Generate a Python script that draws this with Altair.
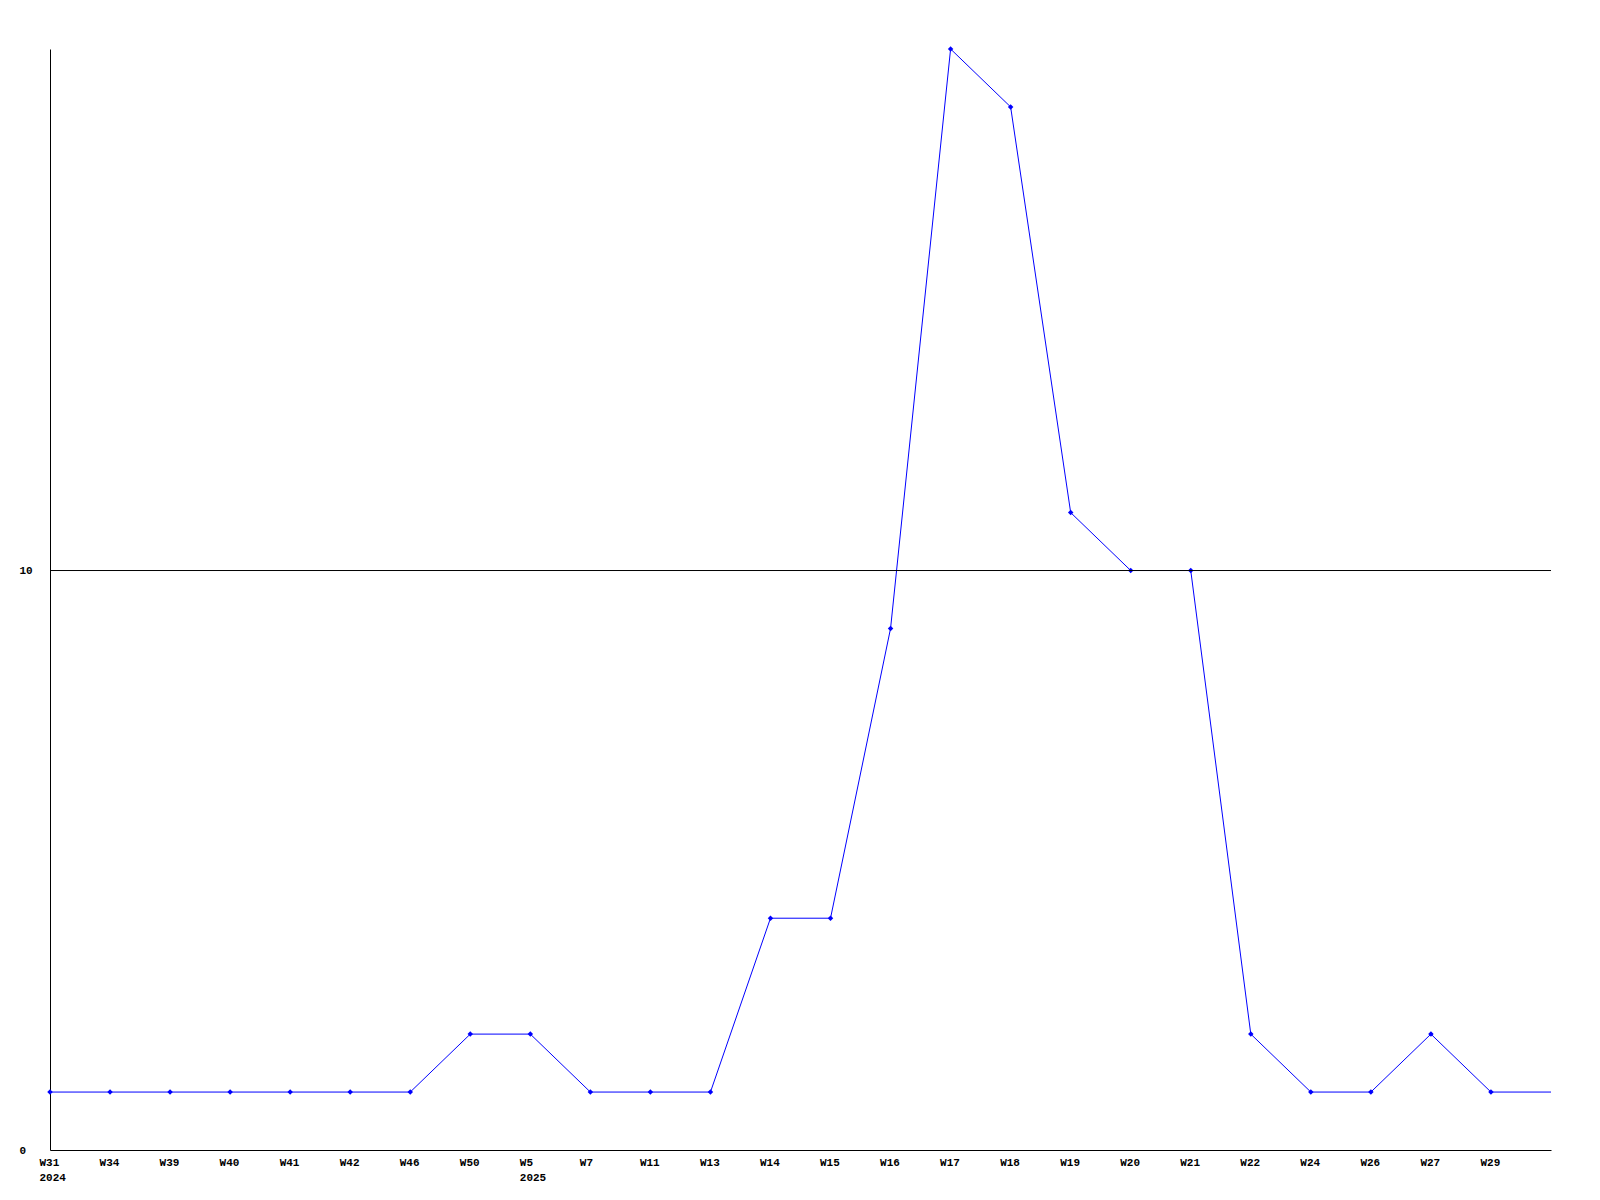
import altair as alt
import pandas as pd

weeks = ["W31", "W34", "W39", "W40", "W41", "W42", "W46", "W50", "W5", "W7",
         "W11", "W13", "W14", "W15", "W16", "W17", "W18", "W19", "W20", "W21",
         "W22", "W24", "W26", "W27", "W29", ""]
years = ["2024", "", "", "", "", "", "", "", "2025", "", "", "", "", "", "", "",
         "", "", "", "", "", "", "", "", "", ""]
values = [1, 1, 1, 1, 1, 1, 1, 2, 2, 1, 1, 1, 4, 4, 9, 19, 18, 11, 10, 10,
          2, 1, 1, 2, 1, 1]
marked = [True] * 25 + [False]
ref_lines = [10]

df = pd.DataFrame({
    "idx": list(range(len(values))),
    "week": weeks,
    "value": values,
    "marked": marked,
})
ref_df = pd.DataFrame({"value": ref_lines})

label_arr = "[" + ",".join(
    "['%s','%s']" % (w, y) for w, y in zip(weeks, years)) + "]"

FONT = "Liberation Mono"

x = alt.X("idx:Q",
          scale=alt.Scale(domain=[0, len(values) - 1], nice=False, zero=False),
          axis=alt.Axis(values=list(range(len(weeks) - 1)), title=None,
                        labelExpr=label_arr + "[datum.value]",
                        ticks=False, grid=False, labelPadding=6,
                        labelAlign="left", labelOffset=-11, labelBaseline="top",
                        labelFont=FONT, labelFontWeight="bold", labelFontSize=11,
                        labelColor="black", labelLineHeight=15,
                        domainColor="black", labelOverlap=False, labelFlush=False))
y = alt.Y("value:Q",
          scale=alt.Scale(domain=[0, 19], nice=False),
          axis=alt.Axis(values=[0, 10], title=None, ticks=False, format="d",
                        grid=False,
                        labelAlign="left", labelPadding=31,
                        labelFont=FONT, labelFontWeight="bold", labelFontSize=11,
                        labelColor="black", domainColor="black"))

line = alt.Chart(df).mark_line(color="#0000FF", strokeWidth=1).encode(x=x, y=y)
pts = alt.Chart(df).transform_filter("datum.marked").mark_point(
    shape="diamond", filled=True, color="#0000FF", size=30, opacity=1
).encode(x=x, y=y)
rule = alt.Chart(ref_df).mark_rule(color="black", strokeWidth=1).encode(
    y=alt.Y("value:Q")
)

chart = (line + pts + rule).properties(
    width=1501, height=1101,
    autosize=alt.AutoSizeParams(type="none"),
    padding={"left": 42, "top": 41, "right": 41, "bottom": 42},
    background="white",
).configure_view(stroke=None)

chart.save("out.html", embed_options={"renderer": "svg", "actions": False})
